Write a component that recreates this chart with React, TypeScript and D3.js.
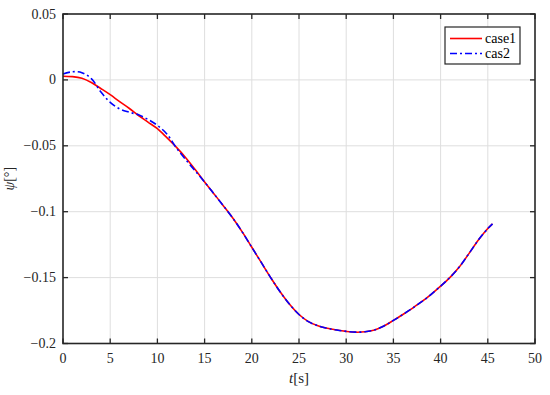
import React, { useEffect, useRef } from "react";
import * as d3 from "d3";

const tValues = [0, 1, 2, 3, 4, 5, 6, 7, 8, 9, 10, 11, 12, 13, 14, 15, 16, 17, 18, 19, 20, 21, 22, 23, 24, 25, 26, 27, 28, 29, 30, 31, 32, 33, 34, 35, 36, 37, 38, 39, 40, 41, 42, 43, 44, 45, 45.5];

const case1 = [0.0028, 0.0025, 0.0012, -0.002, -0.0065, -0.0112, -0.0165, -0.0215, -0.027, -0.032, -0.037, -0.0438, -0.051, -0.059, -0.068, -0.0775, -0.0865, -0.0956, -0.105, -0.1155, -0.127, -0.1385, -0.15, -0.1608, -0.1703, -0.178, -0.1834, -0.1866, -0.1885, -0.1898, -0.1908, -0.1914, -0.1911, -0.1897, -0.1867, -0.1825, -0.178, -0.1733, -0.1683, -0.1627, -0.1565, -0.1498, -0.1418, -0.1318, -0.1215, -0.1128, -0.1092];

const cas2 = [0.0045, 0.0062, 0.0055, 0.001, -0.009, -0.017, -0.022, -0.0245, -0.0265, -0.03, -0.0345, -0.041, -0.0515, -0.0605, -0.069, -0.0775, -0.0865, -0.0956, -0.105, -0.1155, -0.127, -0.1385, -0.15, -0.1608, -0.1703, -0.178, -0.1834, -0.1866, -0.1885, -0.1898, -0.1908, -0.1914, -0.1911, -0.1897, -0.1867, -0.1825, -0.178, -0.1733, -0.1683, -0.1627, -0.1565, -0.1498, -0.1418, -0.1318, -0.1215, -0.1128, -0.1092];

const xTicks = [0, 5, 10, 15, 20, 25, 30, 35, 40, 45, 50];
const yTicks = [0.05, 0, -0.05, -0.1, -0.15, -0.2];
const yTickLabels = ["0.05", "0", "\u22120.05", "\u22120.1", "\u22120.15", "\u22120.2"];

const App = () => {
  const ref = useRef<SVGSVGElement>(null);

  useEffect(() => {
    const width = 550;
    const height = 395;
    const left = 63;
    const right = 535;
    const top = 14;
    const bottom = 343.5;
    const font = "Liberation Serif";
    const axisColor = "#262626";

    const svg = d3.select(ref.current).attr("width", width).attr("height", height);
    svg.selectAll("*").remove();

    svg.append("rect").attr("width", width).attr("height", height).attr("fill", "white");

    const x = d3.scaleLinear().domain([0, 50]).range([left, right]);
    const y = d3.scaleLinear().domain([-0.2, 0.05]).range([bottom, top]);

    // grid
    const grid = svg.append("g").attr("stroke", "#dedede").attr("stroke-width", 1);
    xTicks.slice(1, -1).forEach((t) => {
      grid.append("line").attr("x1", x(t)).attr("x2", x(t)).attr("y1", top).attr("y2", bottom);
    });
    yTicks.slice(1, -1).forEach((v) => {
      grid.append("line").attr("x1", left).attr("x2", right).attr("y1", y(v)).attr("y2", y(v));
    });

    // lines
    const line = d3
      .line<number>()
      .x((d, i) => x(tValues[i]))
      .y((d) => y(d))
      .curve(d3.curveCatmullRom.alpha(0.5));

    svg
      .append("path")
      .attr("d", line(case1))
      .attr("fill", "none")
      .attr("stroke", "#ff0000")
      .attr("stroke-width", 1.6);

    svg
      .append("path")
      .attr("d", line(cas2))
      .attr("fill", "none")
      .attr("stroke", "#0000ff")
      .attr("stroke-width", 1.6)
      .attr("stroke-dasharray", "7,3,2,3");

    // frame + ticks (inward on all sides)
    const frame = svg.append("g").attr("stroke", axisColor);
    frame
      .append("rect")
      .attr("x", left)
      .attr("y", top)
      .attr("width", right - left)
      .attr("height", bottom - top)
      .attr("fill", "none")
      .attr("stroke-width", 1.6);
    xTicks.forEach((t) => {
      frame.append("line").attr("x1", x(t)).attr("x2", x(t)).attr("y1", bottom).attr("y2", bottom - 5).attr("stroke-width", 1.3);
      frame.append("line").attr("x1", x(t)).attr("x2", x(t)).attr("y1", top).attr("y2", top + 5).attr("stroke-width", 1.3);
    });
    yTicks.forEach((v) => {
      frame.append("line").attr("x1", left).attr("x2", left + 5).attr("y1", y(v)).attr("y2", y(v)).attr("stroke-width", 1.3);
      frame.append("line").attr("x1", right).attr("x2", right - 5).attr("y1", y(v)).attr("y2", y(v)).attr("stroke-width", 1.3);
    });

    // tick labels
    svg
      .append("g")
      .selectAll("text")
      .data(xTicks)
      .enter()
      .append("text")
      .attr("x", (d) => x(d))
      .attr("y", 363)
      .attr("text-anchor", "middle")
      .attr("font-family", font)
      .attr("font-size", 14)
      .attr("fill", axisColor)
      .text((d) => d);

    svg
      .append("g")
      .selectAll("text")
      .data(yTicks)
      .enter()
      .append("text")
      .attr("x", 56)
      .attr("y", (d) => y(d) + 4.5)
      .attr("text-anchor", "end")
      .attr("font-family", font)
      .attr("font-size", 14)
      .attr("fill", axisColor)
      .text((d, i) => yTickLabels[i]);

    // axis labels
    const xl = svg
      .append("text")
      .attr("x", (left + right) / 2)
      .attr("y", 383)
      .attr("text-anchor", "middle")
      .attr("font-family", font)
      .attr("font-size", 15)
      .attr("fill", axisColor);
    xl.append("tspan").attr("font-style", "italic").text("t");
    xl.append("tspan").text("[s]");

    const yl = svg
      .append("text")
      .attr("transform", `translate(14, ${(top + bottom) / 2}) rotate(-90)`)
      .attr("text-anchor", "middle")
      .attr("font-family", font)
      .attr("font-size", 14)
      .attr("fill", axisColor);
    yl.append("tspan").attr("font-style", "italic").text("\u03c8");
    yl.append("tspan").text("[\u00b0]");

    // legend
    const lg = svg.append("g");
    lg.append("rect")
      .attr("x", 445)
      .attr("y", 27)
      .attr("width", 75)
      .attr("height", 37)
      .attr("fill", "white")
      .attr("stroke", axisColor)
      .attr("stroke-width", 1.2);
    const entries = [
      { name: "case1", color: "#ff0000", dash: null },
      { name: "cas2", color: "#0000ff", dash: "7,3,2,3" },
    ];
    entries.forEach((e, i) => {
      const yy = 38.5 + i * 15;
      lg.append("line")
        .attr("x1", 450)
        .attr("x2", 482)
        .attr("y1", yy)
        .attr("y2", yy)
        .attr("stroke", e.color)
        .attr("stroke-width", 1.6)
        .attr("stroke-dasharray", e.dash);
      lg.append("text")
        .attr("x", 485)
        .attr("y", yy + 4.5)
        .attr("font-family", font)
        .attr("font-size", 14)
        .attr("fill", "#000")
        .text(e.name);
    });

    return () => {
      d3.select(ref.current).selectAll("*").remove();
    };
  }, []);

  return <svg ref={ref} style={{ position: "absolute", left: 0, top: 0, display: "block" }}></svg>;
};

export default App;
